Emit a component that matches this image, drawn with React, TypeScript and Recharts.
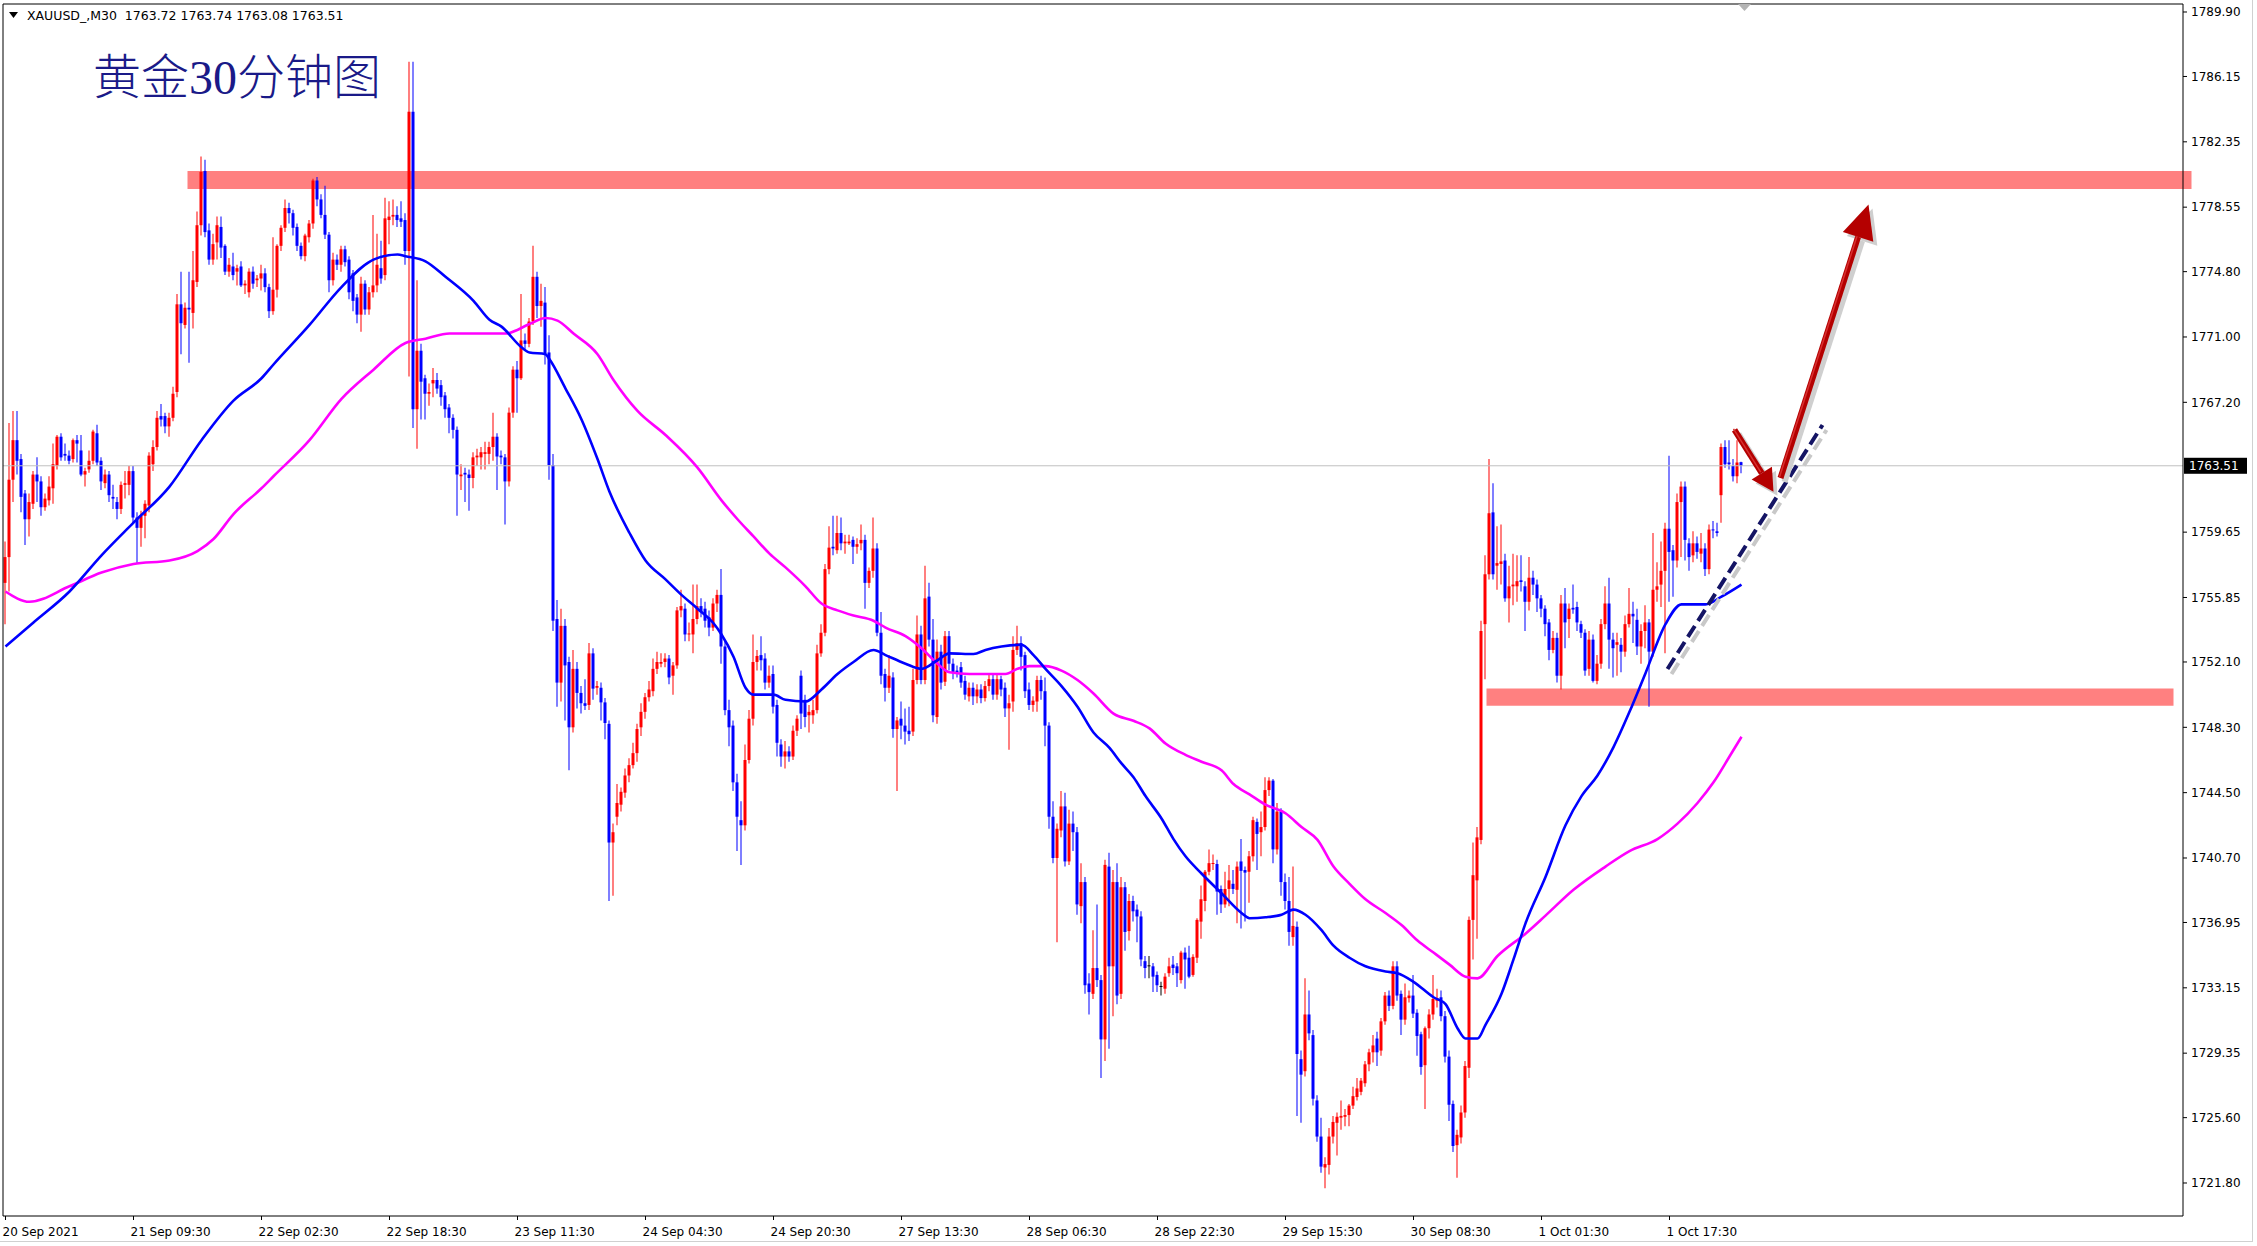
import React from "react";
import {
  Bar,
  Cell,
  ComposedChart,
  Line,
  ReferenceArea,
  ReferenceLine,
  XAxis,
  YAxis,
} from "recharts";

// [open, high, low, close] per 30-minute bar, grouped by the axis label that starts each block
type Candle = [number, number, number, number];

const s20Sep: Candle[] = [
  [1756.7, 1759.1, 1754.3, 1758.2], [1758.2, 1766.0, 1756.2, 1762.7], [1762.7, 1766.7, 1761.4, 1765.0], [1765.0, 1766.7, 1763.0, 1763.8],
  [1763.9, 1764.2, 1760.8, 1761.7], [1761.9, 1762.1, 1758.9, 1760.4], [1760.4, 1761.9, 1759.4, 1761.4], [1761.3, 1763.2, 1761.0, 1763.0],
  [1763.0, 1764.0, 1761.4, 1762.6], [1762.6, 1762.9, 1760.6, 1761.1], [1761.1, 1761.9, 1760.9, 1761.6], [1761.5, 1762.9, 1761.2, 1762.3],
  [1762.2, 1764.8, 1761.3, 1763.6], [1763.5, 1765.3, 1763.3, 1765.2], [1765.2, 1765.4, 1763.8, 1764.0], [1764.2, 1764.8, 1763.8, 1764.1],
  [1764.1, 1764.4, 1763.6, 1763.8], [1763.9, 1765.1, 1763.7, 1765.0], [1765.0, 1765.3, 1763.7, 1764.8], [1764.4, 1765.3, 1762.9, 1763.0],
  [1763.0, 1763.4, 1762.3, 1763.2], [1763.3, 1764.4, 1763.1, 1763.8], [1763.8, 1765.6, 1763.6, 1765.5], [1765.4, 1765.9, 1763.5, 1763.7],
  [1763.8, 1764.0, 1762.1, 1762.6], [1762.5, 1763.3, 1762.2, 1763.0], [1763.0, 1763.2, 1761.4, 1761.8], [1761.7, 1762.4, 1761.0, 1761.6],
  [1761.4, 1761.7, 1760.4, 1761.0], [1761.0, 1762.6, 1760.7, 1762.4], [1762.4, 1763.2, 1761.6, 1762.5], [1762.4, 1763.5, 1761.8, 1763.2],
];

const s21Sep: Candle[] = [
  [1763.2, 1763.5, 1760.2, 1760.5], [1760.5, 1760.8, 1757.8, 1759.9], [1759.9, 1760.9, 1758.8, 1760.6], [1760.6, 1761.5, 1759.3, 1761.3],
  [1761.2, 1764.3, 1760.8, 1764.1], [1763.6, 1765.0, 1763.2, 1764.6], [1764.6, 1766.7, 1764.4, 1766.3], [1766.4, 1767.1, 1765.8, 1766.2],
  [1766.4, 1766.6, 1765.4, 1765.8], [1765.8, 1766.6, 1765.2, 1766.3], [1766.3, 1768.1, 1766.1, 1767.7], [1767.8, 1773.5, 1767.5, 1772.9],
  [1772.9, 1774.8, 1770.0, 1771.8], [1771.7, 1773.0, 1771.5, 1772.7], [1772.7, 1774.8, 1769.5, 1772.6], [1772.4, 1776.0, 1771.5, 1774.3],
  [1774.2, 1778.3, 1773.9, 1777.5], [1777.5, 1781.5, 1776.9, 1780.6], [1780.65, 1781.3, 1776.8, 1777.1], [1777.2, 1777.6, 1775.2, 1775.5],
  [1775.5, 1777.0, 1775.2, 1776.4], [1776.5, 1778.0, 1775.5, 1777.5], [1777.4, 1778.0, 1775.6, 1776.2], [1776.3, 1776.4, 1774.6, 1774.8],
  [1774.8, 1775.6, 1774.5, 1775.2], [1775.1, 1775.9, 1774.3, 1774.6], [1774.8, 1775.2, 1774.0, 1775.0], [1775.1, 1775.4, 1773.9, 1774.0],
  [1774.0, 1774.3, 1773.5, 1774.1], [1773.6, 1775.0, 1773.3, 1774.8], [1774.8, 1775.1, 1773.8, 1774.1], [1774.3, 1774.6, 1773.9, 1774.4],
];

const s22SepA: Candle[] = [
  [1774.4, 1775.2, 1773.7, 1774.7], [1774.7, 1775.0, 1773.6, 1773.9], [1773.9, 1774.1, 1772.1, 1772.5], [1772.5, 1776.8, 1772.3, 1773.75],
  [1773.75, 1776.4, 1773.3, 1776.3], [1776.3, 1777.5, 1776.0, 1777.35], [1777.35, 1779.0, 1777.1, 1778.5], [1778.5, 1778.8, 1777.6, 1778.2],
  [1778.2, 1778.4, 1776.9, 1777.35], [1777.4, 1777.6, 1776.0, 1776.3], [1776.3, 1776.5, 1775.5, 1775.7], [1775.7, 1777.0, 1775.4, 1776.9],
  [1776.8, 1777.8, 1776.5, 1777.6], [1777.6, 1780.2, 1777.3, 1780.1], [1780.1, 1780.3, 1778.6, 1779.0], [1779.0, 1779.3, 1777.9, 1778.1],
  [1778.1, 1779.8, 1776.7, 1776.95], [1776.95, 1777.1, 1773.6, 1774.3], [1774.3, 1775.9, 1774.0, 1775.5], [1775.5, 1775.8, 1774.9, 1775.2],
  [1775.2, 1776.3, 1774.8, 1776.1], [1776.1, 1776.3, 1775.1, 1775.35], [1775.5, 1775.7, 1773.2, 1773.6], [1774.7, 1774.9, 1772.5, 1773.1],
  [1773.3, 1773.5, 1771.8, 1772.3], [1772.3, 1774.5, 1771.3, 1774.1], [1774.1, 1774.3, 1772.3, 1772.6], [1772.6, 1773.9, 1772.3, 1773.6],
  [1773.6, 1778.1, 1773.3, 1774.0], [1774.0, 1777.0, 1773.6, 1775.2], [1775.0, 1776.6, 1774.1, 1774.4], [1774.6, 1779.1, 1774.3, 1777.9],
];

const s22SepB: Candle[] = [
  [1777.8, 1778.9, 1776.4, 1778.0], [1778.0, 1779.0, 1777.5, 1778.1], [1778.1, 1778.6, 1777.4, 1777.8], [1777.9, 1778.9, 1777.4, 1777.7],
  [1777.8, 1778.2, 1775.2, 1776.0], [1776.0, 1787.0, 1768.7, 1784.1], [1784.1, 1787.0, 1765.7, 1766.8], [1766.8, 1774.3, 1764.5, 1770.2],
  [1770.2, 1770.6, 1766.2, 1768.4], [1768.6, 1768.8, 1766.2, 1767.7], [1767.7, 1768.3, 1767.0, 1767.8], [1768.3, 1769.2, 1767.5, 1768.5],
  [1768.5, 1768.9, 1767.7, 1768.0], [1768.2, 1768.5, 1767.0, 1767.5], [1767.6, 1767.8, 1766.3, 1766.8], [1766.9, 1767.1, 1765.4, 1766.3],
  [1766.3, 1766.5, 1765.1, 1765.6], [1765.6, 1765.8, 1760.6, 1763.0], [1762.9, 1763.6, 1762.1, 1763.0], [1763.1, 1763.4, 1761.4, 1763.0],
  [1763.0, 1763.3, 1760.9, 1762.8], [1762.8, 1764.3, 1762.2, 1764.0], [1764.0, 1764.5, 1763.5, 1764.1], [1764.0, 1764.6, 1763.3, 1764.3],
  [1764.2, 1764.9, 1763.3, 1764.3], [1764.2, 1764.9, 1763.6, 1764.6], [1764.6, 1766.6, 1763.8, 1765.2], [1765.2, 1765.4, 1762.1, 1764.05],
  [1764.1, 1764.4, 1763.6, 1764.0], [1764.0, 1764.2, 1760.1, 1762.6], [1762.6, 1766.9, 1762.3, 1766.6], [1766.6, 1769.3, 1766.3, 1769.1],
];

const s23Sep: Candle[] = [
  [1769.1, 1769.6, 1766.6, 1768.6], [1768.6, 1773.5, 1768.5, 1770.8], [1770.8, 1771.2, 1770.2, 1770.6], [1770.6, 1772.1, 1770.4, 1771.9],
  [1771.9, 1776.3, 1771.7, 1774.5], [1774.5, 1774.8, 1772.1, 1772.8], [1772.8, 1774.1, 1771.6, 1773.1], [1773.0, 1773.9, 1769.4, 1770.0],
  [1770.1, 1771.1, 1762.7, 1763.55], [1763.55, 1764.2, 1753.9, 1754.5], [1754.6, 1755.7, 1749.5, 1750.9], [1750.9, 1755.2, 1749.8, 1754.2],
  [1754.2, 1754.6, 1748.7, 1751.9], [1752.1, 1752.4, 1745.8, 1748.3], [1748.3, 1752.8, 1748.0, 1751.7], [1751.7, 1752.1, 1749.4, 1750.3],
  [1750.3, 1750.7, 1749.1, 1749.7], [1749.7, 1751.1, 1749.3, 1749.55], [1749.6, 1753.2, 1749.3, 1752.6], [1752.6, 1752.9, 1749.9, 1750.55],
  [1750.6, 1751.0, 1750.2, 1750.7], [1750.6, 1750.9, 1748.7, 1749.75], [1749.75, 1750.0, 1747.6, 1748.55], [1748.5, 1748.7, 1738.2, 1741.6],
  [1741.6, 1742.7, 1738.5, 1742.2], [1743.1, 1745.0, 1742.6, 1743.9], [1743.8, 1744.8, 1743.4, 1744.55], [1744.5, 1745.9, 1744.2, 1745.5],
  [1745.5, 1746.5, 1745.1, 1746.1], [1746.1, 1747.4, 1745.9, 1746.8], [1746.8, 1748.5, 1746.3, 1748.2], [1748.3, 1749.7, 1747.8, 1749.2],
];

const s24SepA: Candle[] = [
  [1749.2, 1750.3, 1748.8, 1750.05], [1750.05, 1751.0, 1749.8, 1750.5], [1750.4, 1752.3, 1750.1, 1751.7], [1751.7, 1752.7, 1751.4, 1752.1],
  [1752.0, 1752.6, 1751.8, 1752.1], [1752.1, 1752.6, 1751.8, 1752.3], [1752.3, 1752.5, 1750.8, 1751.2], [1751.3, 1752.1, 1750.2, 1751.9],
  [1751.9, 1755.3, 1751.7, 1755.1], [1755.1, 1756.3, 1754.7, 1755.35], [1755.2, 1755.5, 1753.3, 1753.7], [1753.7, 1754.4, 1753.3, 1753.75],
  [1753.7, 1756.6, 1752.6, 1754.6], [1754.6, 1756.6, 1754.3, 1755.35], [1755.35, 1755.8, 1754.7, 1755.0], [1755.2, 1755.6, 1754.1, 1754.5],
  [1754.7, 1755.1, 1753.6, 1754.1], [1754.1, 1755.8, 1753.9, 1755.5], [1755.5, 1756.3, 1755.0, 1756.0], [1756.0, 1757.5, 1752.0, 1753.0],
  [1753.0, 1753.3, 1749.0, 1749.3], [1749.3, 1749.9, 1747.2, 1748.3], [1748.4, 1748.7, 1744.6, 1745.1], [1745.1, 1745.6, 1741.1, 1743.1],
  [1742.9, 1744.0, 1740.3, 1742.6], [1742.6, 1747.3, 1742.3, 1746.4], [1746.4, 1749.3, 1746.2, 1748.8], [1748.8, 1753.7, 1748.4, 1752.1],
  [1752.1, 1752.8, 1751.6, 1752.45], [1752.5, 1753.6, 1751.6, 1752.2], [1752.3, 1752.6, 1750.5, 1750.9], [1750.9, 1751.9, 1750.6, 1751.3],
];

const s24SepB: Candle[] = [
  [1751.4, 1751.9, 1749.1, 1749.5], [1749.6, 1749.9, 1746.6, 1747.4], [1747.3, 1747.6, 1746.0, 1746.6], [1746.6, 1747.5, 1745.9, 1746.9],
  [1746.9, 1747.2, 1746.3, 1746.6], [1746.6, 1748.4, 1746.4, 1748.1], [1748.1, 1749.0, 1747.8, 1748.8], [1751.3, 1751.6, 1748.2, 1749.1],
  [1749.9, 1750.2, 1748.3, 1748.9], [1749.0, 1749.6, 1748.0, 1749.2], [1749.0, 1749.9, 1748.5, 1749.3], [1749.3, 1753.1, 1749.1, 1752.6],
  [1752.6, 1754.3, 1752.4, 1753.8], [1753.8, 1757.8, 1753.6, 1757.5], [1757.5, 1760.0, 1757.2, 1758.75], [1758.8, 1760.6, 1758.3, 1758.7],
  [1758.6, 1760.6, 1758.4, 1759.6], [1759.6, 1760.5, 1758.6, 1759.0], [1759.0, 1759.5, 1758.4, 1759.1], [1759.0, 1759.5, 1758.9, 1759.1],
  [1759.2, 1759.4, 1757.8, 1758.8], [1758.8, 1759.3, 1758.4, 1758.95], [1759.0, 1760.1, 1758.6, 1759.2], [1759.2, 1759.5, 1755.2, 1756.7],
  [1756.7, 1757.6, 1756.4, 1757.4], [1757.4, 1760.5, 1757.0, 1758.7], [1758.7, 1759.0, 1753.6, 1753.8], [1753.8, 1755.0, 1750.8, 1751.3],
  [1751.4, 1751.7, 1749.8, 1750.6], [1750.6, 1752.5, 1750.3, 1751.3], [1751.2, 1751.5, 1747.7, 1748.2], [1748.2, 1748.9, 1744.6, 1748.7],
];

const s27Sep: Candle[] = [
  [1748.8, 1749.8, 1747.6, 1748.4], [1748.4, 1749.4, 1747.3, 1748.05], [1748.1, 1749.5, 1747.5, 1747.9], [1748.05, 1751.7, 1747.8, 1751.05],
  [1751.05, 1754.8, 1750.8, 1753.7], [1753.7, 1754.2, 1750.8, 1751.05], [1751.05, 1757.7, 1750.8, 1755.8], [1755.9, 1756.7, 1753.0, 1753.4],
  [1753.4, 1754.6, 1748.6, 1749.0], [1748.9, 1753.4, 1748.5, 1752.7], [1752.7, 1753.1, 1750.5, 1750.9], [1750.95, 1753.9, 1750.7, 1753.6],
  [1753.6, 1753.9, 1751.6, 1752.0], [1752.0, 1752.3, 1751.1, 1751.5], [1751.6, 1751.9, 1751.2, 1751.5], [1751.8, 1752.1, 1750.6, 1750.9],
  [1751.0, 1751.3, 1749.9, 1750.2], [1750.1, 1750.9, 1749.8, 1750.6], [1750.6, 1750.9, 1749.6, 1750.1], [1750.1, 1750.8, 1749.7, 1750.5],
  [1750.5, 1750.8, 1749.7, 1750.0], [1750.0, 1751.0, 1749.8, 1750.7], [1750.7, 1751.4, 1750.4, 1751.1], [1751.1, 1751.4, 1749.9, 1750.2],
  [1750.2, 1751.4, 1749.9, 1751.1], [1751.1, 1751.3, 1750.1, 1750.5], [1750.6, 1750.9, 1748.9, 1749.4], [1749.4, 1750.2, 1747.0, 1749.7],
  [1749.8, 1753.6, 1749.2, 1752.8], [1752.8, 1754.2, 1752.5, 1753.2], [1753.2, 1753.6, 1751.6, 1752.4], [1752.5, 1752.7, 1750.0, 1750.4],
];

const s28SepA: Candle[] = [
  [1750.5, 1750.9, 1749.3, 1749.6], [1749.6, 1750.1, 1749.2, 1749.85], [1749.8, 1751.3, 1749.2, 1751.05], [1751.05, 1751.3, 1749.9, 1750.4],
  [1750.4, 1751.2, 1747.2, 1748.4], [1748.4, 1748.6, 1742.4, 1743.1], [1743.1, 1744.0, 1740.4, 1740.7], [1740.7, 1742.7, 1735.8, 1742.4],
  [1742.3, 1744.6, 1741.9, 1743.7], [1743.7, 1744.5, 1740.2, 1740.5], [1740.5, 1743.5, 1740.3, 1742.7], [1742.7, 1743.4, 1741.1, 1742.2],
  [1742.2, 1742.5, 1737.4, 1738.0], [1737.9, 1740.4, 1736.9, 1739.3], [1739.3, 1739.6, 1732.8, 1733.3], [1733.4, 1734.0, 1731.6, 1732.9],
  [1732.8, 1736.5, 1732.5, 1734.3], [1734.3, 1738.0, 1733.2, 1733.6], [1733.6, 1733.9, 1727.9, 1730.15], [1730.15, 1740.6, 1728.9, 1740.3],
  [1740.2, 1741.0, 1729.6, 1734.4], [1734.4, 1740.0, 1731.5, 1739.3], [1739.3, 1740.4, 1732.2, 1732.7], [1732.8, 1739.6, 1732.5, 1739.0],
  [1739.0, 1739.3, 1735.3, 1736.4], [1736.45, 1738.6, 1735.9, 1738.2], [1738.2, 1738.5, 1737.0, 1737.6], [1737.7, 1738.0, 1735.8, 1737.3],
  [1737.3, 1737.6, 1734.4, 1734.8], [1734.7, 1735.0, 1733.7, 1734.3], [1734.4, 1735.0, 1733.7, 1734.4], [1734.4, 1734.6, 1732.9, 1733.8],
];

const s28SepB: Candle[] = [
  [1733.9, 1734.1, 1732.9, 1733.3], [1733.2, 1733.5, 1732.7, 1733.2], [1733.1, 1734.0, 1732.8, 1733.8], [1734.0, 1734.9, 1733.8, 1734.4],
  [1734.5, 1735.0, 1733.9, 1734.3], [1734.4, 1734.6, 1733.2, 1734.0], [1733.6, 1735.3, 1733.4, 1735.2], [1735.2, 1735.5, 1733.1, 1734.8],
  [1734.9, 1735.6, 1733.7, 1733.8], [1733.9, 1735.1, 1733.8, 1734.95], [1734.9, 1737.2, 1734.6, 1737.1], [1737.0, 1739.1, 1736.0, 1738.3],
  [1738.2, 1740.0, 1737.6, 1739.9], [1739.9, 1741.2, 1739.7, 1740.4], [1740.35, 1740.9, 1740.0, 1740.4], [1740.35, 1740.6, 1737.4, 1738.75],
  [1738.9, 1739.1, 1737.5, 1738.0], [1738.0, 1739.9, 1737.8, 1738.9], [1738.9, 1740.3, 1737.9, 1739.4], [1739.2, 1740.0, 1738.6, 1738.9],
  [1738.85, 1740.5, 1736.9, 1740.2], [1740.5, 1741.8, 1736.6, 1739.95], [1740.0, 1740.2, 1737.0, 1739.85], [1739.9, 1741.1, 1738.1, 1740.8],
  [1740.8, 1743.1, 1740.5, 1742.9], [1742.8, 1743.0, 1740.0, 1742.1], [1742.2, 1743.4, 1740.8, 1742.5], [1742.5, 1745.4, 1742.3, 1744.65],
  [1744.65, 1745.4, 1744.3, 1745.2], [1745.2, 1745.3, 1740.4, 1741.2], [1741.2, 1743.9, 1740.9, 1743.4], [1743.4, 1743.6, 1738.5, 1739.3],
];

const s29Sep: Candle[] = [
  [1739.3, 1739.8, 1737.7, 1738.2], [1738.2, 1739.6, 1735.6, 1736.4], [1736.1, 1740.2, 1735.6, 1736.75], [1736.7, 1737.0, 1725.7, 1729.3],
  [1729.0, 1729.5, 1725.3, 1728.1], [1728.3, 1733.7, 1728.0, 1731.6], [1731.6, 1733.0, 1730.1, 1730.5], [1730.4, 1730.7, 1726.3, 1726.7],
  [1726.6, 1726.9, 1724.2, 1724.5], [1724.5, 1725.6, 1722.4, 1722.75], [1722.7, 1723.3, 1721.5, 1722.9], [1722.85, 1725.0, 1722.3, 1724.5],
  [1724.5, 1725.7, 1724.1, 1725.35], [1725.3, 1725.9, 1723.4, 1725.65], [1725.6, 1726.6, 1724.9, 1725.7], [1725.65, 1726.1, 1725.1, 1725.75],
  [1725.75, 1726.4, 1725.1, 1726.3], [1726.3, 1727.4, 1726.1, 1726.85], [1726.8, 1727.9, 1726.6, 1727.3], [1727.1, 1727.9, 1726.9, 1727.75],
  [1727.6, 1728.9, 1727.4, 1728.7], [1728.7, 1729.6, 1728.3, 1729.4], [1729.4, 1730.4, 1728.8, 1729.8], [1730.2, 1730.6, 1728.6, 1729.4],
  [1729.5, 1731.4, 1729.2, 1731.2], [1731.2, 1732.9, 1731.0, 1732.7], [1732.7, 1733.0, 1731.8, 1732.1], [1732.1, 1734.7, 1731.9, 1734.4],
  [1734.4, 1734.7, 1732.4, 1732.7], [1732.8, 1733.0, 1730.4, 1731.3], [1731.3, 1733.4, 1731.0, 1732.6], [1732.55, 1733.0, 1732.3, 1732.7],
];

const s30Sep: Candle[] = [
  [1732.7, 1733.9, 1731.4, 1731.65], [1731.7, 1731.9, 1729.2, 1730.35], [1730.45, 1730.6, 1728.1, 1728.55], [1728.65, 1730.9, 1726.1, 1730.8],
  [1730.8, 1731.9, 1730.2, 1731.6], [1731.6, 1733.9, 1731.3, 1732.5], [1732.4, 1733.1, 1732.0, 1732.55], [1732.6, 1733.0, 1731.2, 1731.5],
  [1731.5, 1731.8, 1728.8, 1729.15], [1729.15, 1729.5, 1725.4, 1726.35], [1726.4, 1726.6, 1723.6, 1723.95], [1724.0, 1724.9, 1722.1, 1724.6],
  [1724.45, 1726.3, 1724.1, 1725.9], [1725.9, 1728.9, 1725.6, 1728.6], [1728.5, 1737.3, 1727.9, 1737.1], [1737.1, 1741.6, 1734.8, 1739.7],
  [1739.4, 1742.5, 1736.0, 1741.9], [1741.75, 1754.5, 1741.5, 1753.9], [1754.3, 1758.3, 1751.1, 1757.2], [1757.2, 1763.9, 1756.9, 1760.75],
  [1760.8, 1762.5, 1756.9, 1757.2], [1757.7, 1760.0, 1756.3, 1757.85], [1757.8, 1760.1, 1756.6, 1757.95], [1758.0, 1758.4, 1755.6, 1755.8],
  [1755.8, 1757.7, 1754.4, 1756.5], [1756.5, 1758.4, 1755.4, 1756.6], [1756.5, 1758.3, 1755.6, 1756.8], [1756.85, 1758.3, 1756.2, 1756.75],
  [1756.5, 1756.8, 1753.9, 1755.6], [1755.6, 1758.2, 1755.1, 1757.0], [1757.0, 1757.4, 1756.0, 1756.6], [1756.6, 1756.9, 1755.0, 1755.8],
];

const s1OctA: Candle[] = [
  [1755.8, 1756.0, 1754.7, 1755.2], [1755.2, 1755.4, 1753.6, 1754.3], [1754.4, 1754.6, 1752.2, 1752.8], [1752.8, 1753.9, 1752.6, 1753.5],
  [1753.5, 1753.8, 1750.9, 1751.3], [1751.3, 1756.0, 1750.5, 1755.5], [1755.5, 1756.4, 1752.9, 1754.4], [1754.6, 1755.5, 1753.5, 1755.2],
  [1755.25, 1756.6, 1754.9, 1755.15], [1755.3, 1755.6, 1753.9, 1754.4], [1754.3, 1754.5, 1753.5, 1753.8], [1753.8, 1754.0, 1751.3, 1751.6],
  [1751.7, 1753.9, 1751.3, 1753.4], [1753.4, 1753.7, 1750.9, 1751.0], [1751.0, 1752.5, 1750.8, 1752.0], [1752.0, 1754.6, 1751.7, 1754.3],
  [1754.3, 1756.5, 1754.0, 1755.5], [1755.5, 1757.0, 1751.7, 1753.4], [1753.4, 1753.8, 1751.2, 1752.9], [1753.1, 1753.8, 1751.3, 1753.25],
  [1753.1, 1753.5, 1751.5, 1752.7], [1752.7, 1754.8, 1752.4, 1754.3], [1754.3, 1756.4, 1754.1, 1754.9], [1754.9, 1755.6, 1753.2, 1754.75],
  [1754.55, 1755.2, 1752.5, 1753.0], [1753.0, 1754.3, 1752.0, 1753.9], [1753.9, 1755.4, 1752.9, 1754.4], [1754.4, 1754.6, 1749.5, 1752.7],
  [1752.7, 1759.6, 1752.4, 1756.3], [1756.3, 1757.9, 1755.6, 1756.5], [1756.6, 1759.1, 1755.3, 1757.4], [1757.4, 1760.2, 1752.6, 1759.85],
];

const s1OctB: Candle[] = [
  [1759.85, 1764.1, 1755.6, 1758.5], [1758.6, 1758.9, 1755.9, 1758.0], [1758.0, 1761.9, 1757.6, 1761.4], [1761.4, 1762.6, 1758.2, 1762.3],
  [1762.3, 1762.6, 1758.0, 1759.2], [1759.0, 1759.3, 1757.4, 1758.2], [1758.3, 1759.7, 1757.9, 1759.0], [1759.0, 1759.4, 1758.1, 1758.5],
  [1758.4, 1759.6, 1757.9, 1758.7], [1758.7, 1759.0, 1757.1, 1757.5], [1757.5, 1760.1, 1757.2, 1759.8], [1759.8, 1760.3, 1759.3, 1759.75],
  [1759.7, 1760.2, 1759.4, 1759.6], [1761.8, 1764.8, 1760.2, 1764.6], [1764.6, 1765.0, 1763.4, 1763.6], [1763.7, 1765.0, 1763.3, 1763.6],
  [1763.5, 1763.9, 1762.6, 1762.9], [1762.9, 1765.0, 1762.5, 1763.7], [1763.72, 1763.74, 1763.08, 1763.51],
];

const sessions = [
  s20Sep, s21Sep, s22SepA, s22SepB, s23Sep, s24SepA, s24SepB,
  s27Sep, s28SepA, s28SepB, s29Sep, s30Sep, s1OctA, s1OctB,
];

const dateLabels = [
  "20 Sep 2021", "21 Sep 09:30", "22 Sep 02:30", "22 Sep 18:30", "23 Sep 11:30",
  "24 Sep 04:30", "24 Sep 20:30", "27 Sep 13:30", "28 Sep 06:30", "28 Sep 22:30",
  "29 Sep 15:30", "30 Sep 08:30", "1 Oct 01:30", "1 Oct 17:30",
];
const LABEL_STEP = 32;

const priceTicks = [
  1789.9, 1786.15, 1782.35, 1778.55, 1774.8, 1771.0, 1767.2, 1759.65, 1755.85,
  1752.1, 1748.3, 1744.5, 1740.7, 1736.95, 1733.15, 1729.35, 1725.6, 1721.8,
];
const lastPrice = 1763.51;
const quoteLine = "XAUUSD_,M30  1763.72 1763.74 1763.08 1763.51";
const title = "黄金30分钟图";

// moving averages: [bar index, price]
const maFast: [number, number][] = [
  [0, 1753.0], [7, 1754.4], [16, 1756.2], [24, 1758.3], [32, 1760.2], [41, 1762.3], [49, 1765.0], [57, 1767.3],
  [64, 1768.6], [67, 1769.4], [76, 1771.7], [84, 1773.9], [92, 1775.5], [98, 1775.8], [100, 1775.7], [105, 1775.4],
  [110, 1774.5], [117, 1773.1], [121, 1772.0], [124, 1771.6], [129, 1770.4], [131, 1770.1], [135, 1770.0], [136, 1769.7],
  [140, 1768.0], [144, 1766.2], [148, 1763.9], [151, 1762.0], [156, 1759.6], [160, 1758.0], [165, 1756.9], [169, 1756.0],
  [173, 1755.2], [177, 1754.35], [179, 1753.7], [182, 1752.4], [185, 1750.6], [187, 1750.2], [192, 1750.2], [195, 1749.9],
  [200, 1749.8], [204, 1750.5], [208, 1751.4], [212, 1752.1], [217, 1752.8], [220, 1752.5], [225, 1752.0], [229, 1751.7],
  [233, 1752.2], [236, 1752.6], [242, 1752.56], [245, 1752.8], [249, 1753.0], [254, 1753.1], [257, 1752.5], [260, 1751.7],
  [264, 1750.7], [268, 1749.5], [272, 1748.0], [276, 1747.1], [279, 1746.2], [282, 1745.4], [285, 1744.3], [289, 1743.0],
  [292, 1741.8], [295, 1740.8], [299, 1739.8], [304, 1738.65], [309, 1737.5], [311, 1737.2], [315, 1737.25], [319, 1737.4],
  [322, 1737.7], [325, 1737.4], [329, 1736.5], [332, 1735.6], [336, 1734.9], [340, 1734.4], [345, 1734.1], [348, 1734.0],
  [352, 1733.5], [357, 1732.6], [360, 1732.2], [363, 1730.8], [365, 1730.2], [368, 1730.2], [370, 1731.0], [374, 1732.8],
  [377, 1734.8], [380, 1736.9], [385, 1739.6], [390, 1742.6], [394, 1744.3], [398, 1745.5], [402, 1747.15], [406, 1749.2],
  [410, 1751.45], [415, 1754.3], [419, 1755.45], [425, 1755.45], [429, 1755.9], [434, 1756.6],
];

const maSlow: [number, number][] = [
  [0, 1756.2], [6, 1755.6], [16, 1756.5], [24, 1757.3], [32, 1757.8], [41, 1758.0], [48, 1758.55], [52, 1759.25],
  [57, 1760.7], [64, 1762.2], [67, 1762.9], [76, 1765.0], [84, 1767.4], [92, 1769.1], [100, 1770.65], [105, 1770.9],
  [111, 1771.2], [119, 1771.2], [125, 1771.2], [131, 1771.75], [135, 1772.1], [138, 1771.95], [142, 1771.2], [148, 1770.0],
  [152, 1768.5], [158, 1766.7], [165, 1765.3], [173, 1763.4], [179, 1761.5], [183, 1760.4], [187, 1759.4], [191, 1758.4],
  [195, 1757.6], [200, 1756.5], [204, 1755.5], [208, 1755.1], [212, 1754.8], [217, 1754.5], [220, 1754.1], [225, 1753.6],
  [229, 1752.9], [233, 1752.0], [236, 1751.5], [241, 1751.4], [250, 1751.4], [253, 1751.7], [256, 1751.86], [260, 1751.86],
  [264, 1751.6], [268, 1751.05], [272, 1750.27], [277, 1749.1], [282, 1748.68], [286, 1748.24], [290, 1747.36], [295, 1746.7],
  [299, 1746.3], [304, 1745.8], [307, 1745.0], [311, 1744.4], [315, 1743.8], [320, 1743.3], [324, 1742.5], [328, 1741.75],
  [332, 1740.2], [336, 1739.2], [340, 1738.3], [345, 1737.5], [349, 1736.8], [353, 1735.9], [357, 1735.2], [361, 1734.5],
  [365, 1733.8], [368, 1733.7], [373, 1735.0], [380, 1736.3], [385, 1737.35], [392, 1738.85], [400, 1740.2], [406, 1741.1],
  [413, 1741.8], [418, 1742.7], [423, 1743.9], [427, 1745.1], [431, 1746.6], [434, 1747.75],
];

// drawn objects, in bar index / price units
const resistanceZone = { x1: 45.5, x2: 546.5, y1: 1779.6, y2: 1780.65 };
const supportZone = { x1: 370.25, x2: 542, y1: 1749.55, y2: 1750.55 };
const trendLine = [{ x: 415.5, y: 1751.69 }, { x: 454.25, y: 1765.88 }];
const pullbackArrow = [{ x: 432.25, y: 1765.6 }, { x: 442, y: 1762.0 }];
const targetArrow = [{ x: 443.75, y: 1762.8 }, { x: 465.75, y: 1778.7 }];

const SLOTS = 545;
const X_DOMAIN: [number, number] = [-0.625, 544.375];
const Y_DOMAIN: [number, number] = [1719.88, 1790.365];
const UP = "#FF0000";
const DOWN = "#0000FF";
const FLAT = "#000000";
const ARROW = "#B40000";
const FONT = "'DejaVu Sans', Verdana, sans-serif";

const candles = sessions.flat();
const fastMap = new Map(maFast);
const slowMap = new Map(maSlow);

const rows = Array.from({ length: SLOTS }, (_, i) => {
  const row: any = { i };
  const c = candles[i];
  if (c) {
    const [o, h, l, cl] = c;
    row.wick = [l, h];
    row.body = [Math.min(o, cl), Math.max(o, cl)];
    row.color = cl > o ? UP : cl < o ? DOWN : FLAT;
  }
  if (fastMap.has(i)) row.maFast = fastMap.get(i);
  if (slowMap.has(i)) row.maSlow = slowMap.get(i);
  return row;
});

const dateTicks = dateLabels.map((_, k) => k * LABEL_STEP);

function DateTick(props: any) {
  const label = dateLabels[Math.round(props.payload.value / LABEL_STEP)];
  return (
    <text x={props.x - 3} y={props.y} dy={9} fontSize={12} fontFamily={FONT} fill="#000" textAnchor="start">
      {label}
    </text>
  );
}

function arrowShape(shaft: number, head: number, halfWidth: number) {
  return (p: any) => {
    const { x1, y1, x2, y2 } = p;
    const len = Math.hypot(x2 - x1, y2 - y1) || 1;
    const ux = (x2 - x1) / len;
    const uy = (y2 - y1) / len;
    const bx = x2 - ux * head;
    const by = y2 - uy * head;
    const nx = -uy * halfWidth;
    const ny = ux * halfWidth;
    const tri = (d: number) =>
      `${x2 + d},${y2 + d} ${bx + nx + d},${by + ny + d} ${bx - nx + d},${by - ny + d}`;
    return (
      <g>
        <line x1={x1 + 4} y1={y1 + 4} x2={bx + 4} y2={by + 4} stroke="#cfcfcf" strokeWidth={shaft} />
        <polygon points={tri(4)} fill="#cfcfcf" />
        <line x1={x1} y1={y1} x2={bx} y2={by} stroke={ARROW} strokeWidth={shaft} />
        <line x1={x1 - 1} y1={y1 - 1} x2={bx - 1} y2={by - 1} stroke="#D83030" strokeWidth={1.5} />
        <polygon points={tri(0)} fill={ARROW} />
      </g>
    );
  };
}

function dashedShape(p: any) {
  const { x1, y1, x2, y2 } = p;
  return (
    <g>
      <line x1={x1 + 4} y1={y1 + 5} x2={x2 + 4} y2={y2 + 5} stroke="#c8c8c8" strokeWidth={4} strokeDasharray="13 6" />
      <line x1={x1} y1={y1} x2={x2} y2={y2} stroke="#141464" strokeWidth={4} strokeDasharray="13 6" />
    </g>
  );
}

function PriceBox(props: any) {
  const vb = props.viewBox || {};
  const x = (vb.x || 0) + (vb.width || 0) + 1;
  const y = vb.y || 0;
  return (
    <g>
      <rect x={x} y={y - 8} width={63} height={16} fill="#000" />
      <text x={x + 5} y={y} dy={4.5} fontSize={12} fontFamily={FONT} fill="#fff">
        {lastPrice.toFixed(2)}
      </text>
    </g>
  );
}

export default function App() {
  return (
    <div
      style={{
        position: "absolute",
        left: 0,
        top: 0,
        width: 2257,
        height: 1246,
        background: "#fff",
        overflow: "hidden",
        fontFamily: FONT,
      }}
    >
      <ComposedChart width={2257} height={1246} data={rows} margin={{ top: 4, right: 0, bottom: 0, left: 3 }}>
        <XAxis
          xAxisId="main"
          dataKey="i"
          type="number"
          domain={X_DOMAIN}
          allowDataOverflow
          ticks={dateTicks}
          tick={<DateTick />}
          tickSize={4}
          tickMargin={7}
          height={30}
          axisLine={{ stroke: "#000" }}
          tickLine={{ stroke: "#000" }}
          interval={0}
        />
        <XAxis xAxisId="wick" dataKey="i" type="number" domain={X_DOMAIN} allowDataOverflow hide />
        <YAxis
          orientation="right"
          domain={Y_DOMAIN}
          allowDataOverflow
          ticks={priceTicks}
          tickFormatter={(v: number) => v.toFixed(2)}
          tick={{ fontSize: 12, fill: "#000", fontFamily: FONT }}
          tickSize={4}
          tickMargin={4}
          width={74}
          axisLine={{ stroke: "#000" }}
          tickLine={{ stroke: "#000" }}
          interval={0}
        />

        <ReferenceArea
          xAxisId="main"
          x1={resistanceZone.x1}
          x2={resistanceZone.x2}
          y1={resistanceZone.y1}
          y2={resistanceZone.y2}
          fill="#FF8080"
          fillOpacity={1}
          stroke="none"
          ifOverflow="visible"
        />
        <ReferenceArea
          xAxisId="main"
          x1={supportZone.x1}
          x2={supportZone.x2}
          y1={supportZone.y1}
          y2={supportZone.y2}
          fill="#FF8080"
          fillOpacity={1}
          stroke="none"
          ifOverflow="visible"
        />
        <ReferenceLine xAxisId="main" y={lastPrice} stroke="#C0C0C0" strokeWidth={1} label={<PriceBox />} />
        <ReferenceLine xAxisId="main" x={X_DOMAIN[0]} stroke="#000" strokeWidth={1} />
        <ReferenceLine xAxisId="main" y={Y_DOMAIN[1]} stroke="#000" strokeWidth={1} />

        <Bar xAxisId="wick" dataKey="wick" barSize={1} isAnimationActive={false}>
          {rows.map((r) => (
            <Cell key={`w${r.i}`} fill={r.color || "none"} />
          ))}
        </Bar>
        <Bar xAxisId="main" dataKey="body" barSize={3} minPointSize={1} isAnimationActive={false}>
          {rows.map((r) => (
            <Cell key={`b${r.i}`} fill={r.color || "none"} />
          ))}
        </Bar>

        <Line
          xAxisId="main"
          dataKey="maSlow"
          type="monotone"
          stroke="#FF00FF"
          strokeWidth={2.6}
          dot={false}
          connectNulls
          isAnimationActive={false}
        />
        <Line
          xAxisId="main"
          dataKey="maFast"
          type="monotone"
          stroke="#0000FF"
          strokeWidth={2.6}
          dot={false}
          connectNulls
          isAnimationActive={false}
        />

        <ReferenceLine xAxisId="main" segment={trendLine} shape={dashedShape} ifOverflow="visible" />
        <ReferenceLine xAxisId="main" segment={pullbackArrow} shape={arrowShape(6, 22, 12)} ifOverflow="visible" />
        <ReferenceLine xAxisId="main" segment={targetArrow} shape={arrowShape(6, 34, 16)} ifOverflow="visible" />
      </ComposedChart>

      <div
        style={{
          position: "absolute",
          left: 9,
          top: 9,
          display: "flex",
          alignItems: "center",
          fontSize: 12.5,
          lineHeight: "14px",
          color: "#000",
          whiteSpace: "pre",
        }}
      >
        <svg width={10} height={8} style={{ marginRight: 8 }}>
          <polygon points="0,0 9,0 4.5,6" fill="#000" />
        </svg>
        {quoteLine}
      </div>

      <div
        style={{
          position: "absolute",
          left: 93,
          top: 50,
          fontSize: 48,
          lineHeight: "56px",
          color: "#1a1a88",
          fontWeight: 300,
          fontFamily: "'Liberation Serif', 'Noto Sans CJK SC', serif",
          whiteSpace: "nowrap",
        }}
      >
        {title}
      </div>

      <svg width={14} height={9} style={{ position: "absolute", left: 1738, top: 4 }}>
        <polygon points="0,0 13,0 6.5,7" fill="#b4b4b4" />
      </svg>
      <div style={{ position: "absolute", left: 2252, top: 0, width: 1, height: 1242, background: "#d0d0d0" }} />
      <div style={{ position: "absolute", left: 0, top: 1241, width: 2253, height: 1, background: "#d0d0d0" }} />
    </div>
  );
}
